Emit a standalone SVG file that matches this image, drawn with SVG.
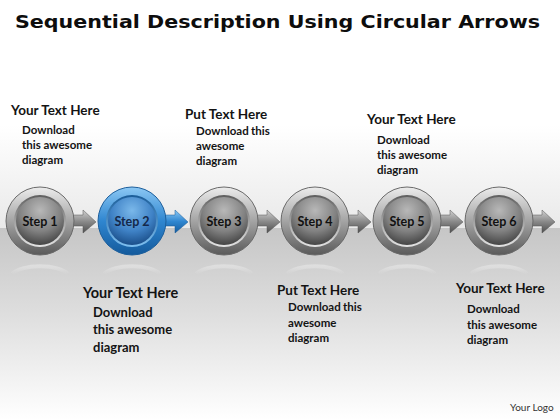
<svg xmlns="http://www.w3.org/2000/svg" width="560" height="420" viewBox="0 0 560 420">
<defs>
<linearGradient id="bgTop" x1="0" y1="0" x2="0" y2="1">
<stop offset="0" stop-color="#ffffff"/>
<stop offset="0.55" stop-color="#ffffff"/>
<stop offset="1" stop-color="#e9e9e9"/>
</linearGradient>
<linearGradient id="bgBot" x1="0" y1="0" x2="0" y2="1">
<stop offset="0" stop-color="#c6c6c6"/>
<stop offset="0.45" stop-color="#dedede"/>
<stop offset="1" stop-color="#ffffff"/>
</linearGradient>
<linearGradient id="ringG" x1="0" y1="0" x2="0" y2="1">
<stop offset="0" stop-color="#ececec"/>
<stop offset="0.5" stop-color="#a4a4a4"/>
<stop offset="1" stop-color="#5a5a5a"/>
</linearGradient>
<linearGradient id="rimG" x1="0" y1="0" x2="0" y2="1">
<stop offset="0" stop-color="#5e5e5e"/>
<stop offset="1" stop-color="#e4e4e4"/>
</linearGradient>
<radialGradient id="discG" cx="0.5" cy="0.28" r="0.72">
<stop offset="0" stop-color="#b8b8b8"/>
<stop offset="0.6" stop-color="#828282"/>
<stop offset="1" stop-color="#454545"/>
</radialGradient>
<linearGradient id="arrowG" x1="0" y1="0" x2="0" y2="1">
<stop offset="0" stop-color="#d2d2d2"/>
<stop offset="0.5" stop-color="#8a8a8a"/>
<stop offset="1" stop-color="#4e4e4e"/>
</linearGradient>
<linearGradient id="ringB" x1="0" y1="0" x2="0" y2="1">
<stop offset="0" stop-color="#8cc8f4"/>
<stop offset="0.5" stop-color="#2f86d0"/>
<stop offset="1" stop-color="#145a9c"/>
</linearGradient>
<linearGradient id="rimB" x1="0" y1="0" x2="0" y2="1">
<stop offset="0" stop-color="#1a5c98"/>
<stop offset="1" stop-color="#7fc0f0"/>
</linearGradient>
<radialGradient id="discB" cx="0.5" cy="0.28" r="0.72">
<stop offset="0" stop-color="#7ab8ea"/>
<stop offset="0.6" stop-color="#3f82c6"/>
<stop offset="1" stop-color="#1b4f8a"/>
</radialGradient>
<linearGradient id="arrowB" x1="0" y1="0" x2="0" y2="1">
<stop offset="0" stop-color="#8ccaf6"/>
<stop offset="0.5" stop-color="#2f86d0"/>
<stop offset="1" stop-color="#155c9e"/>
</linearGradient>
<linearGradient id="reflG" x1="0" y1="0" x2="0" y2="1">
<stop offset="0" stop-color="#ffffff" stop-opacity="0.3"/>
<stop offset="1" stop-color="#ffffff" stop-opacity="0"/>
</linearGradient>
<g id="arrowShape">
<path d="M20,-6 L43,-6 L43,-11 L56,1 L43,12 L43,5 L20,5 Z"/>
</g>
</defs>
<style>
.title{font-family:"DejaVu Sans","Liberation Sans",sans-serif;font-weight:bold;font-size:18.5px;fill:#0d0d0d}
.head{font-family:Lato,"Open Sans",sans-serif;font-weight:700;font-size:13.5px;fill:#141414}
.body{font-family:Lato,"Open Sans",sans-serif;font-weight:700;font-size:11.5px;fill:#141414}
.headL{font-family:Lato,"Open Sans",sans-serif;font-weight:700;font-size:14.5px;fill:#141414}
.bodyL{font-family:Lato,"Open Sans",sans-serif;font-weight:700;font-size:13px;fill:#141414}
.step{font-family:Lato,"Open Sans",sans-serif;font-weight:700;font-size:12.5px;fill:#111;text-anchor:middle}
.stepB{font-family:Lato,"Open Sans",sans-serif;font-weight:700;font-size:12.5px;fill:#14284a;text-anchor:middle}
.logo{font-family:Lato,"Open Sans",sans-serif;font-size:10px;fill:#333}
.refl{fill:none;stroke:url(#reflG);stroke-width:4}
</style>
<rect x="0" y="0" width="560" height="228" fill="url(#bgTop)"/>
<rect x="0" y="228" width="560" height="192" fill="url(#bgBot)"/>
<g id="reflections">
<path class="refl" d="M12,274 A30,12 0 0 1 68,274"/>
<path class="refl" d="M104,274 A30,12 0 0 1 160,274"/>
<path class="refl" d="M196,274 A30,12 0 0 1 252,274"/>
<path class="refl" d="M287,274 A30,12 0 0 1 343,274"/>
<path class="refl" d="M379,274 A30,12 0 0 1 435,274"/>
<path class="refl" d="M471,274 A30,12 0 0 1 527,274"/>
</g>
<text class="title" x="15" y="28" textLength="525" lengthAdjust="spacingAndGlyphs">Sequential Description Using Circular Arrows</text>
<g id="connectors">
<use href="#arrowShape" x="40" y="221" fill="url(#arrowG)" stroke="#555" stroke-width="0.5"/>
<use href="#arrowShape" x="132" y="221" fill="url(#arrowB)" stroke="#1a5a96" stroke-width="0.5"/>
<use href="#arrowShape" x="224" y="221" fill="url(#arrowG)" stroke="#555" stroke-width="0.5"/>
<use href="#arrowShape" x="315" y="221" fill="url(#arrowG)" stroke="#555" stroke-width="0.5"/>
<use href="#arrowShape" x="407" y="221" fill="url(#arrowG)" stroke="#555" stroke-width="0.5"/>
<use href="#arrowShape" x="499" y="221" fill="url(#arrowG)" stroke="#555" stroke-width="0.5"/>
</g>
<g id="step1">
<circle cx="40" cy="221" r="34" fill="url(#ringG)" stroke="#6a6a6a" stroke-width="1"/>
<circle cx="40" cy="221" r="26" fill="url(#rimG)"/>
<circle cx="40" cy="221" r="24" fill="url(#discG)"/>
<text class="step" x="40" y="226">Step 1</text>
</g>
<g id="step2">
<circle cx="132" cy="221" r="34" fill="url(#ringB)" stroke="#1d5f9c" stroke-width="1"/>
<circle cx="132" cy="221" r="26" fill="url(#rimB)"/>
<circle cx="132" cy="221" r="24" fill="url(#discB)"/>
<text class="stepB" x="132" y="226">Step 2</text>
</g>
<g id="step3">
<circle cx="224" cy="221" r="34" fill="url(#ringG)" stroke="#6a6a6a" stroke-width="1"/>
<circle cx="224" cy="221" r="26" fill="url(#rimG)"/>
<circle cx="224" cy="221" r="24" fill="url(#discG)"/>
<text class="step" x="224" y="226">Step 3</text>
</g>
<g id="step4">
<circle cx="315" cy="221" r="34" fill="url(#ringG)" stroke="#6a6a6a" stroke-width="1"/>
<circle cx="315" cy="221" r="26" fill="url(#rimG)"/>
<circle cx="315" cy="221" r="24" fill="url(#discG)"/>
<text class="step" x="315" y="226">Step 4</text>
</g>
<g id="step5">
<circle cx="407" cy="221" r="34" fill="url(#ringG)" stroke="#6a6a6a" stroke-width="1"/>
<circle cx="407" cy="221" r="26" fill="url(#rimG)"/>
<circle cx="407" cy="221" r="24" fill="url(#discG)"/>
<text class="step" x="407" y="226">Step 5</text>
</g>
<g id="step6">
<circle cx="499" cy="221" r="34" fill="url(#ringG)" stroke="#6a6a6a" stroke-width="1"/>
<circle cx="499" cy="221" r="26" fill="url(#rimG)"/>
<circle cx="499" cy="221" r="24" fill="url(#discG)"/>
<text class="step" x="499" y="226">Step 6</text>
</g>
<g id="text1">
<text class="head" x="11" y="115">Your Text Here</text>
<text class="body" x="22" y="134">Download</text>
<text class="body" x="22" y="149">this awesome</text>
<text class="body" x="22" y="164">diagram</text>
</g>
<g id="text2">
<text class="head" x="185" y="119">Put Text Here</text>
<text class="body" x="196" y="135">Download <tspan x="251">this</tspan></text>
<text class="body" x="196" y="150">awesome</text>
<text class="body" x="196" y="165">diagram</text>
</g>
<g id="text3">
<text class="head" x="367" y="124">Your Text Here</text>
<text class="body" x="377" y="144">Download</text>
<text class="body" x="377" y="159">this awesome</text>
<text class="body" x="377" y="174">diagram</text>
</g>
<g id="text4">
<text class="headL" x="83" y="298">Your Text Here</text>
<text class="bodyL" x="93" y="317">Download</text>
<text class="bodyL" x="93" y="334">this awesome</text>
<text class="bodyL" x="93" y="352">diagram</text>
</g>
<g id="text5">
<text class="head" x="277" y="295">Put Text Here</text>
<text class="body" x="288" y="311">Download <tspan x="343">this</tspan></text>
<text class="body" x="288" y="327">awesome</text>
<text class="body" x="288" y="342">diagram</text>
</g>
<g id="text6">
<text class="head" x="456" y="293">Your Text Here</text>
<text class="body" x="467" y="313">Download</text>
<text class="body" x="467" y="329">this awesome</text>
<text class="body" x="467" y="344">diagram</text>
</g>
<text class="logo" x="510" y="411">Your Logo</text>
</svg>
